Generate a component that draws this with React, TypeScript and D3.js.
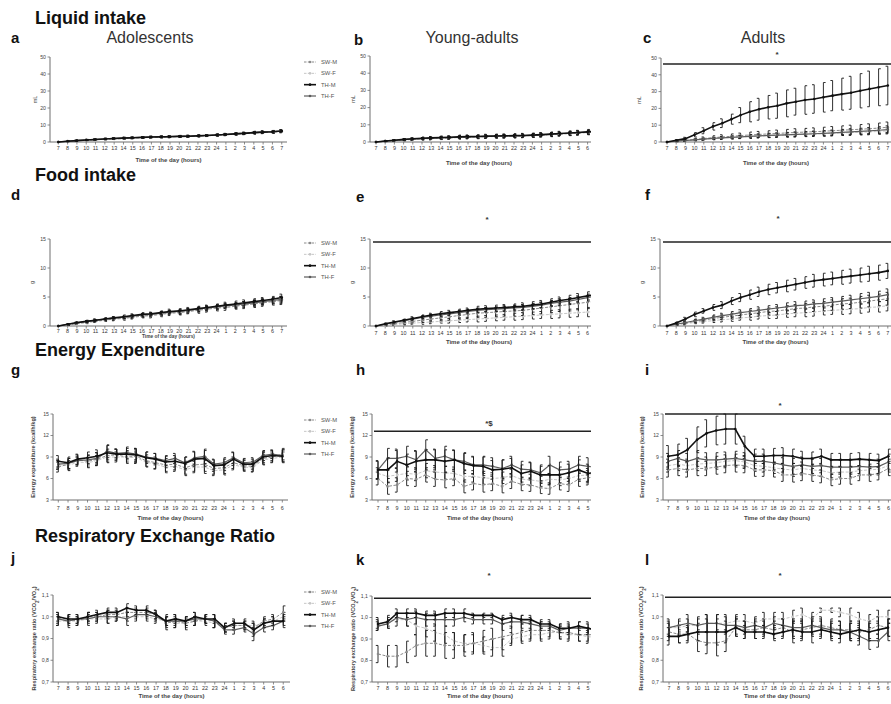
import React from "react";
import * as d3 from "d3";

// ---- time axis ----
const HOURS_25 = ["7","8","9","10","11","12","13","14","15","16","17","18","19","20","21","22","23","24","1","2","3","4","5","6","7"];
const HOURS_24 = HOURS_25.slice(0, 24);
const GROUPS = ["SW-M", "SW-F", "TH-M", "TH-F"];

// ---- tick values ----
const LIQ_TICKS = [0, 10, 20, 30, 40, 50];
const FOOD_TICKS = [0, 5, 10, 15];
const EE_TICKS = [3, 6, 9, 12, 15];
const RER_TICKS = [0.7, 0.8, 0.9, 1.0, 1.1];

// ---- Liquid intake (mL, cumulative) ----
const liqAdo_SWM = [0,0.3,0.7,1.0,1.3,1.6,1.8,2.0,2.2,2.5,2.7,2.9,3.0,3.2,3.3,3.5,3.7,4.0,4.3,4.6,4.9,5.3,5.6,5.8,6.2];
const liqAdo_SWM_sem = [0,0.1,0.2,0.2,0.3,0.3,0.3,0.4,0.4,0.4,0.4,0.5,0.5,0.5,0.5,0.5,0.5,0.6,0.6,0.6,0.6,0.7,0.7,0.7,0.8];
const liqAdo_SWF = [0,0.4,0.8,1.1,1.4,1.7,2.0,2.2,2.4,2.6,2.8,3.0,3.1,3.3,3.4,3.6,3.8,4.1,4.4,4.7,5.0,5.4,5.7,5.9,6.3];
const liqAdo_SWF_sem = [0,0.1,0.1,0.2,0.2,0.3,0.3,0.3,0.3,0.4,0.4,0.4,0.4,0.4,0.5,0.5,0.5,0.5,0.5,0.6,0.6,0.6,0.6,0.7,0.7];
const liqAdo_THM = [0,0.4,0.8,1.2,1.5,1.8,2.1,2.3,2.5,2.7,2.9,3.0,3.1,3.3,3.4,3.6,3.8,4.1,4.4,4.8,5.1,5.5,5.8,6.0,6.5];
const liqAdo_THM_sem = [0,0.1,0.2,0.3,0.3,0.4,0.4,0.4,0.4,0.5,0.5,0.5,0.5,0.5,0.5,0.5,0.5,0.6,0.6,0.6,0.6,0.6,0.7,0.7,0.7];
const liqAdo_THF = [0,0.5,0.9,1.3,1.6,1.9,2.2,2.4,2.6,2.8,3.0,3.1,3.3,3.4,3.5,3.7,3.9,4.2,4.5,4.9,5.2,5.7,5.9,6.1,6.6];
const liqAdo_THF_sem = [0,0.1,0.2,0.2,0.3,0.3,0.3,0.4,0.4,0.4,0.4,0.4,0.5,0.5,0.5,0.5,0.5,0.5,0.6,0.6,0.6,0.6,0.6,0.7,0.7];

const liqYou_SWM = [0,0.4,0.8,1.2,1.5,1.8,2.0,2.2,2.4,2.6,2.8,2.9,3.1,3.2,3.3,3.4,3.6,3.8,4.0,4.3,4.6,4.9,5.2,5.5,5.9];
const liqYou_SWM_sem = [0,0.2,0.3,0.5,0.6,0.7,0.8,0.8,0.9,0.9,1.0,1.0,1.0,1.0,1.1,1.1,1.1,1.1,1.2,1.2,1.2,1.2,1.3,1.3,1.3];
const liqYou_SWF = [0,0.5,0.8,1.2,1.6,1.9,2.1,2.3,2.5,2.7,2.9,3.0,3.2,3.3,3.4,3.5,3.7,3.9,4.1,4.4,4.7,5.0,5.3,5.7,6.0];
const liqYou_SWF_sem = [0,0.2,0.3,0.4,0.5,0.6,0.6,0.7,0.7,0.8,0.8,0.8,0.9,0.9,0.9,0.9,1.0,1.0,1.0,1.0,1.0,1.1,1.1,1.1,1.2];
const liqYou_THM = [0,0.6,1.0,1.5,1.9,2.2,2.4,2.6,2.8,3.0,3.1,3.2,3.4,3.5,3.6,3.7,3.8,4.0,4.3,4.6,4.9,5.2,5.5,5.9,6.3];
const liqYou_THM_sem = [0,0.2,0.3,0.5,0.6,0.7,0.8,0.9,0.9,1.0,1.0,1.0,1.1,1.1,1.1,1.1,1.2,1.2,1.2,1.2,1.3,1.3,1.3,1.4,1.4];
const liqYou_THF = [0,0.5,0.9,1.3,1.7,2.0,2.2,2.4,2.6,2.8,3.0,3.1,3.2,3.4,3.5,3.6,3.7,3.9,4.2,4.5,4.8,5.1,5.4,5.8,6.1];
const liqYou_THF_sem = [0,0.2,0.3,0.4,0.5,0.5,0.6,0.6,0.7,0.7,0.7,0.8,0.8,0.8,0.8,0.9,0.9,0.9,0.9,1.0,1.0,1.0,1.0,1.1,1.1];

const liqAdu_SWM = [0,0.5,1.0,1.5,2.1,2.6,3.0,3.4,3.8,4.2,4.5,4.8,5.1,5.4,5.7,5.9,6.1,6.4,6.7,7.0,7.3,7.6,7.9,8.3,8.8];
const liqAdu_SWM_sem = [0,0.3,0.5,0.7,0.9,1.1,1.3,1.4,1.5,1.7,1.8,1.9,2.0,2.1,2.2,2.2,2.3,2.4,2.5,2.6,2.7,2.8,2.9,3.0,3.1];
const liqAdu_SWF = [0,0.4,0.8,1.2,1.6,2.0,2.4,2.7,3.0,3.3,3.6,3.8,4.0,4.2,4.4,4.6,4.8,5.0,5.2,5.4,5.6,5.8,6.0,6.3,6.6];
const liqAdu_SWF_sem = [0,0.2,0.3,0.4,0.5,0.6,0.7,0.8,0.9,1.0,1.0,1.1,1.2,1.2,1.3,1.3,1.4,1.4,1.5,1.5,1.6,1.6,1.7,1.7,1.8];
const liqAdu_THM = [0,1.0,2.0,4.3,6.7,9.3,11.2,13.6,16.0,18.0,19.5,20.7,21.6,23.0,24.0,25.0,25.6,26.6,27.6,28.5,29.3,30.5,31.6,32.6,33.6];
const liqAdu_THM_sem = [0,0.4,0.8,1.3,1.8,2.2,2.6,3.0,4.5,6.0,6.5,7.0,7.5,8.0,8.0,8.5,8.5,8.8,9.0,9.5,9.8,10.2,10.6,11.0,11.5];
const liqAdu_THF = [0,0.5,0.9,1.3,1.7,2.1,2.4,2.7,3.0,3.3,3.6,3.9,4.1,4.3,4.5,4.7,4.9,5.1,5.4,5.7,6.0,6.3,6.6,7.0,7.4];
const liqAdu_THF_sem = [0,0.2,0.4,0.5,0.6,0.7,0.8,0.9,1.0,1.1,1.2,1.3,1.3,1.4,1.5,1.5,1.6,1.7,1.7,1.8,1.9,1.9,2.0,2.1,2.2];

// ---- Food intake (g, cumulative) ----
const fooAdo_SWM = [0,0.2,0.4,0.6,0.8,1.0,1.2,1.3,1.5,1.7,1.8,2.0,2.2,2.3,2.5,2.7,2.9,3.1,3.2,3.4,3.6,3.8,4.0,4.2,4.4];
const fooAdo_SWM_sem = [0,0.1,0.1,0.2,0.2,0.2,0.3,0.3,0.3,0.3,0.4,0.4,0.4,0.4,0.4,0.5,0.5,0.5,0.5,0.5,0.6,0.6,0.6,0.6,0.7];
const fooAdo_SWF = [0,0.2,0.5,0.7,0.9,1.1,1.2,1.4,1.6,1.8,1.9,2.1,2.3,2.4,2.6,2.8,3.0,3.2,3.4,3.5,3.7,3.9,4.1,4.3,4.5];
const fooAdo_SWF_sem = [0,0.1,0.1,0.1,0.2,0.2,0.2,0.2,0.3,0.3,0.3,0.3,0.3,0.4,0.4,0.4,0.4,0.4,0.4,0.5,0.5,0.5,0.5,0.5,0.6];
const fooAdo_THM = [0,0.3,0.6,0.8,1.0,1.2,1.4,1.6,1.8,2.0,2.1,2.3,2.5,2.6,2.8,3.0,3.2,3.4,3.6,3.8,4.0,4.2,4.4,4.6,4.9];
const fooAdo_THM_sem = [0,0.1,0.1,0.2,0.2,0.2,0.2,0.3,0.3,0.3,0.3,0.3,0.4,0.4,0.4,0.4,0.4,0.4,0.5,0.5,0.5,0.5,0.5,0.5,0.6];
const fooAdo_THF = [0,0.3,0.5,0.8,1.0,1.2,1.4,1.5,1.7,1.9,2.0,2.2,2.4,2.5,2.7,2.9,3.1,3.3,3.5,3.6,3.8,4.0,4.2,4.4,4.6];
const fooAdo_THF_sem = [0,0.1,0.1,0.1,0.2,0.2,0.2,0.2,0.2,0.3,0.3,0.3,0.3,0.3,0.3,0.4,0.4,0.4,0.4,0.4,0.4,0.5,0.5,0.5,0.5];

const fooYou_SWM = [0,0.2,0.4,0.6,0.8,1.0,1.2,1.4,1.6,1.8,2.0,2.2,2.3,2.4,2.5,2.6,2.7,2.9,3.1,3.3,3.5,3.7,3.9,4.1,4.3];
const fooYou_SWM_sem = [0,0.1,0.2,0.3,0.3,0.4,0.5,0.5,0.6,0.6,0.7,0.7,0.8,0.8,0.8,0.9,0.9,0.9,1.0,1.0,1.0,1.1,1.1,1.1,1.2];
const fooYou_SWF = [0,0.1,0.2,0.4,0.5,0.6,0.7,0.8,0.9,1.0,1.1,1.2,1.3,1.4,1.5,1.6,1.7,1.8,1.9,2.0,2.1,2.2,2.3,2.4,2.5];
const fooYou_SWF_sem = [0,0.1,0.1,0.2,0.2,0.3,0.3,0.3,0.4,0.4,0.4,0.5,0.5,0.5,0.5,0.6,0.6,0.6,0.6,0.7,0.7,0.7,0.7,0.8,0.8];
const fooYou_THM = [0,0.4,0.7,1.0,1.3,1.6,1.9,2.1,2.3,2.5,2.7,2.9,3.0,3.1,3.2,3.3,3.4,3.6,3.8,4.1,4.4,4.6,4.9,5.2,5.5];
const fooYou_THM_sem = [0,0.1,0.2,0.2,0.3,0.3,0.3,0.4,0.4,0.4,0.4,0.5,0.5,0.5,0.5,0.5,0.6,0.6,0.6,0.6,0.6,0.7,0.7,0.7,0.7];
const fooYou_THF = [0,0.3,0.6,0.9,1.2,1.5,1.7,1.9,2.1,2.3,2.5,2.7,2.8,2.9,3.0,3.1,3.2,3.4,3.6,3.9,4.1,4.3,4.6,4.9,5.2];
const fooYou_THF_sem = [0,0.1,0.1,0.2,0.2,0.3,0.3,0.3,0.3,0.4,0.4,0.4,0.4,0.4,0.5,0.5,0.5,0.5,0.5,0.5,0.6,0.6,0.6,0.6,0.6];

const fooAdu_SWM = [0,0.3,0.5,0.8,1.0,1.3,1.5,1.7,1.9,2.1,2.3,2.5,2.6,2.8,3.0,3.1,3.3,3.4,3.6,3.8,3.9,4.1,4.3,4.5,4.7];
const fooAdu_SWM_sem = [0,0.1,0.2,0.3,0.3,0.4,0.4,0.5,0.5,0.6,0.6,0.6,0.7,0.7,0.7,0.8,0.8,0.8,0.9,0.9,0.9,1.0,1.0,1.0,1.1];
const fooAdu_SWF = [0,0.2,0.4,0.6,0.8,0.9,1.1,1.2,1.4,1.5,1.7,1.8,1.9,2.1,2.2,2.3,2.4,2.6,2.7,2.8,2.9,3.0,3.2,3.3,3.5];
const fooAdu_SWF_sem = [0,0.1,0.2,0.2,0.3,0.3,0.4,0.4,0.4,0.5,0.5,0.5,0.6,0.6,0.6,0.7,0.7,0.7,0.7,0.8,0.8,0.8,0.8,0.9,0.9];
const fooAdu_THM = [0,0.5,1.2,2.0,2.6,3.2,3.6,4.3,4.9,5.4,5.9,6.3,6.6,6.9,7.2,7.5,7.8,8.0,8.2,8.4,8.6,8.8,9.0,9.2,9.5];
const fooAdu_THM_sem = [0,0.2,0.3,0.4,0.4,0.5,0.6,0.6,0.7,0.8,0.8,0.9,0.9,1.0,1.0,1.0,1.1,1.1,1.1,1.2,1.2,1.2,1.3,1.3,1.3];
const fooAdu_THF = [0,0.3,0.6,0.9,1.2,1.5,1.8,2.0,2.3,2.5,2.7,2.9,3.1,3.3,3.5,3.6,3.8,3.9,4.1,4.3,4.5,4.7,4.9,5.1,5.4];
const fooAdu_THF_sem = [0,0.1,0.2,0.3,0.3,0.4,0.4,0.5,0.5,0.5,0.6,0.6,0.6,0.7,0.7,0.7,0.7,0.8,0.8,0.8,0.8,0.9,0.9,0.9,1.0];

// ---- Energy expenditure (kcal/h/kg) ----
const eeAdo_SWM = [7.6,8.0,8.6,8.4,8.7,9.2,9.3,9.0,9.1,8.5,8.2,7.9,8.0,7.5,7.9,8.0,7.4,7.5,8.2,7.8,7.7,8.8,9.0,9.4];
const eeAdo_SWM_sem = [0.7,0.8,0.7,0.8,0.9,0.9,0.8,0.9,0.9,0.8,0.8,0.9,0.8,0.9,0.9,1.0,0.8,0.8,0.8,0.7,0.7,0.8,0.7,0.8];
const eeAdo_SWF = [7.9,7.8,8.3,8.2,8.5,9.0,9.0,9.0,8.9,8.3,8.0,7.6,7.7,7.2,7.6,7.6,7.1,7.2,7.9,7.6,7.5,8.6,8.8,9.0];
const eeAdo_SWF_sem = [0.6,0.7,0.6,0.7,0.7,0.8,0.7,0.7,0.8,0.7,0.7,0.8,0.7,0.8,0.8,0.9,0.7,0.7,0.7,0.6,0.6,0.7,0.6,0.7];
const eeAdo_THM = [8.4,8.2,8.7,8.9,9.1,9.6,9.4,9.4,9.3,8.9,8.7,8.3,8.4,8.1,8.7,8.8,7.8,7.9,8.7,8.0,8.0,9.0,9.2,9.1];
const eeAdo_THM_sem = [0.8,0.8,0.7,0.8,0.9,1.0,0.7,0.8,0.9,0.8,0.8,0.8,0.8,0.9,1.0,1.1,0.8,0.8,0.9,0.7,0.7,0.8,0.7,0.9];
const eeAdo_THF = [8.0,8.1,8.5,8.6,8.8,9.8,9.5,9.6,9.4,9.0,8.8,8.5,8.8,8.2,8.9,9.1,8.0,8.2,8.9,8.2,8.3,9.2,9.4,9.2];
const eeAdo_THF_sem = [0.7,0.7,0.6,0.7,0.8,0.9,0.6,0.8,0.8,0.7,0.7,0.7,0.7,0.8,0.9,1.0,0.7,0.7,0.8,0.6,0.6,0.7,0.6,0.8];

const eeYou_SWM = [6.0,4.9,5.1,6.0,5.9,6.5,5.9,5.8,6.0,4.9,5.3,5.1,5.3,4.9,5.6,5.2,5.1,4.7,4.6,5.3,5.1,5.9,6.1,6.3];
const eeYou_SWM_sem = [0.9,1.1,1.0,1.0,1.0,1.0,1.0,1.1,1.0,0.9,0.9,1.0,1.0,0.9,1.0,0.9,0.9,0.8,0.8,0.9,0.9,1.0,1.0,1.0];
const eeYou_SWF = [6.7,6.3,6.5,6.7,6.6,7.1,6.9,6.8,6.7,6.3,6.3,6.1,6.0,6.1,6.4,5.9,5.8,5.6,5.9,5.8,6.0,6.4,6.5,6.6];
const eeYou_SWF_sem = [0.8,0.9,0.9,0.9,0.9,1.0,0.9,0.9,0.9,0.8,0.8,0.9,0.8,0.8,0.9,0.8,0.8,0.7,0.8,0.8,0.8,0.8,0.9,0.9];
const eeYou_THM = [7.2,7.2,8.4,7.9,8.4,8.6,8.6,8.4,8.6,8.1,7.8,7.7,7.2,7.3,7.5,6.7,7.0,6.5,6.5,6.5,6.8,7.2,6.7,6.9];
const eeYou_THM_sem = [1.3,1.7,1.5,1.5,1.4,1.4,1.4,1.6,1.4,1.4,1.2,1.3,1.3,1.3,1.3,1.2,1.2,1.2,1.3,1.1,1.2,1.4,1.3,1.3];
const eeYou_THF = [7.2,8.8,8.8,9.1,8.6,10.0,8.8,9.1,8.6,8.4,7.9,7.9,7.7,7.4,7.9,7.3,7.2,6.8,7.9,7.2,7.3,7.9,7.7,7.5];
const eeYou_THF_sem = [1.2,1.4,1.3,1.4,1.3,1.4,1.3,1.4,1.3,1.2,1.2,1.2,1.2,1.2,1.2,1.1,1.1,1.1,1.2,1.1,1.1,1.2,1.2,1.2];

const eeAdu_SWM = [7.2,7.4,7.2,7.4,7.4,7.6,7.8,7.9,7.8,7.2,7.2,7.1,6.5,6.5,6.7,6.5,6.3,5.8,6.0,6.0,6.5,6.5,6.7,7.4];
const eeAdu_SWM_sem = [1.0,1.0,1.0,1.0,1.0,1.0,1.0,1.0,1.0,0.9,0.9,0.9,0.9,1.0,1.0,0.9,0.9,0.8,0.8,0.8,0.8,0.9,0.9,1.0];
const eeAdu_SWF = [7.8,8.0,7.8,8.0,8.1,8.2,8.4,8.5,8.3,7.8,7.7,7.5,7.3,7.2,7.4,7.2,7.1,6.8,6.9,6.9,7.1,7.2,7.3,7.8];
const eeAdu_SWF_sem = [0.9,0.9,0.9,0.9,0.9,0.9,0.9,0.9,0.9,0.8,0.8,0.8,0.8,0.9,0.9,0.8,0.8,0.7,0.7,0.7,0.7,0.8,0.8,0.9];
const eeAdu_THM = [9.1,9.3,10.0,11.4,12.3,12.7,12.9,12.9,10.5,9.1,9.1,9.2,9.2,9.1,8.8,8.8,9.1,8.6,8.6,8.6,8.7,8.6,8.5,9.1];
const eeAdu_THM_sem = [1.5,1.5,1.6,1.8,1.9,2.0,2.1,2.1,1.4,1.0,1.0,1.0,1.1,1.0,1.0,0.9,1.0,0.9,0.9,0.9,0.9,0.9,0.9,1.0];
const eeAdu_THF = [8.4,8.8,8.4,8.8,8.6,8.6,8.7,8.8,8.6,8.4,8.4,8.2,7.9,7.7,7.9,7.7,7.8,7.6,7.6,7.6,7.7,7.6,7.7,8.3];
const eeAdu_THF_sem = [1.1,1.1,1.1,1.1,1.0,1.0,1.0,1.0,1.0,1.0,1.0,1.0,1.0,1.1,1.1,1.0,1.0,1.0,1.0,1.0,1.0,1.0,1.0,1.1];

// ---- Respiratory exchange ratio (VCO2/VO2) ----
const rerAdo_SWM = [0.99,0.99,0.98,1.00,1.00,1.01,1.01,1.02,1.02,1.02,1.01,0.97,0.98,0.97,0.98,0.99,0.98,0.95,0.96,0.96,0.95,0.98,0.99,1.02];
const rerAdo_SWM_sem = [0.02,0.02,0.02,0.02,0.02,0.02,0.02,0.02,0.02,0.02,0.02,0.03,0.03,0.03,0.02,0.02,0.03,0.02,0.02,0.02,0.02,0.02,0.02,0.03];
const rerAdo_SWF = [0.98,0.98,0.98,0.99,0.99,0.99,1.00,1.00,1.00,1.00,0.99,0.98,0.97,0.97,0.98,0.98,0.97,0.95,0.96,0.96,0.96,0.97,0.98,1.00];
const rerAdo_SWF_sem = [0.02,0.02,0.02,0.02,0.02,0.02,0.02,0.02,0.02,0.02,0.02,0.02,0.02,0.02,0.02,0.02,0.02,0.02,0.02,0.02,0.02,0.02,0.02,0.02];
const rerAdo_THM = [1.00,0.99,0.99,1.00,1.01,1.02,1.02,1.04,1.03,1.03,1.01,0.98,0.99,0.98,1.00,0.99,0.99,0.95,0.97,0.97,0.94,0.97,0.98,0.98];
const rerAdo_THM_sem = [0.02,0.02,0.02,0.02,0.02,0.02,0.02,0.02,0.02,0.02,0.02,0.02,0.02,0.02,0.02,0.02,0.02,0.02,0.02,0.02,0.03,0.02,0.02,0.02];
const rerAdo_THF = [0.99,0.98,0.99,0.99,1.00,1.00,1.00,0.99,1.01,1.01,1.00,0.98,0.98,0.98,0.99,0.99,0.98,0.94,0.94,0.95,0.92,0.95,0.96,0.98];
const rerAdo_THF_sem = [0.03,0.03,0.02,0.03,0.02,0.03,0.02,0.03,0.02,0.02,0.02,0.03,0.02,0.02,0.03,0.02,0.03,0.02,0.02,0.02,0.03,0.02,0.02,0.03];

const rerYou_SWM = [0.83,0.82,0.82,0.84,0.87,0.88,0.88,0.87,0.87,0.87,0.88,0.89,0.90,0.91,0.92,0.93,0.94,0.94,0.94,0.93,0.93,0.92,0.92,0.92];
const rerYou_SWM_sem = [0.04,0.05,0.05,0.05,0.05,0.06,0.06,0.06,0.06,0.05,0.05,0.05,0.05,0.06,0.04,0.04,0.04,0.04,0.03,0.03,0.03,0.03,0.03,0.03];
const rerYou_SWF = [0.97,0.98,0.99,0.99,0.96,0.95,0.93,0.92,0.89,0.88,0.88,0.87,0.86,0.86,0.90,0.91,0.92,0.92,0.93,0.93,0.92,0.92,0.91,0.91];
const rerYou_SWF_sem = [0.03,0.03,0.03,0.03,0.04,0.04,0.04,0.04,0.04,0.04,0.04,0.04,0.04,0.04,0.03,0.03,0.03,0.03,0.03,0.03,0.03,0.03,0.03,0.03];
const rerYou_THM = [0.97,0.98,1.02,1.02,1.02,1.01,1.01,1.02,1.02,1.02,1.01,1.01,1.01,0.99,1.00,0.99,0.99,0.97,0.97,0.95,0.95,0.96,0.95,0.94];
const rerYou_THM_sem = [0.02,0.02,0.02,0.02,0.02,0.02,0.02,0.02,0.02,0.02,0.01,0.01,0.01,0.02,0.02,0.02,0.02,0.02,0.02,0.02,0.02,0.02,0.02,0.02];
const rerYou_THF = [0.96,0.97,1.00,0.99,1.00,0.99,0.99,0.99,0.99,1.00,0.99,0.99,0.99,0.97,0.98,0.98,0.97,0.96,0.96,0.94,0.95,0.95,0.95,0.94];
const rerYou_THF_sem = [0.02,0.02,0.02,0.03,0.03,0.03,0.03,0.03,0.03,0.02,0.02,0.02,0.02,0.03,0.03,0.03,0.03,0.02,0.02,0.03,0.03,0.03,0.03,0.03];

const rerAdu_SWM = [0.93,0.92,0.92,0.89,0.88,0.88,0.89,0.95,0.94,0.94,0.95,0.94,0.95,0.93,0.94,0.95,0.96,0.95,0.94,0.94,0.93,0.94,0.96,0.95];
const rerAdu_SWM_sem = [0.04,0.04,0.04,0.05,0.05,0.06,0.05,0.04,0.04,0.04,0.04,0.04,0.04,0.05,0.04,0.04,0.04,0.04,0.04,0.04,0.04,0.04,0.04,0.04];
const rerAdu_SWF = [0.95,0.95,0.96,0.96,0.97,0.97,0.97,0.98,0.98,0.97,0.99,0.99,0.99,1.00,1.01,0.99,1.03,1.03,1.02,1.01,0.99,0.98,1.00,1.00];
const rerAdu_SWF_sem = [0.03,0.03,0.03,0.03,0.04,0.04,0.04,0.03,0.03,0.03,0.03,0.03,0.03,0.03,0.03,0.03,0.01,0.01,0.02,0.03,0.03,0.03,0.03,0.03];
const rerAdu_THM = [0.91,0.91,0.92,0.93,0.93,0.93,0.93,0.95,0.93,0.93,0.93,0.92,0.93,0.94,0.93,0.93,0.94,0.93,0.92,0.93,0.94,0.93,0.94,0.95];
const rerAdu_THM_sem = [0.04,0.03,0.03,0.04,0.06,0.06,0.05,0.04,0.03,0.03,0.03,0.03,0.03,0.04,0.04,0.05,0.04,0.04,0.04,0.04,0.04,0.04,0.04,0.04];
const rerAdu_THF = [0.95,0.96,0.97,0.96,0.97,0.97,0.96,0.96,0.95,0.96,0.95,0.97,0.96,0.95,0.95,0.96,0.95,0.94,0.94,0.93,0.91,0.89,0.89,0.93];
const rerAdu_THF_sem = [0.04,0.03,0.04,0.04,0.04,0.04,0.04,0.04,0.03,0.03,0.03,0.03,0.03,0.04,0.04,0.04,0.04,0.04,0.04,0.04,0.04,0.04,0.03,0.04];

// ---- appearance ----
const FONT = "'Liberation Sans', Arial, Helvetica, sans-serif";
const GROUP_STYLE: Record<string, { stroke: string; width: number; dash?: string }> = {
  "SW-M": { stroke: "#8a8a8a", width: 1, dash: "3,1.6" },
  "SW-F": { stroke: "#c6c6c6", width: 1, dash: "3,1.6" },
  "TH-M": { stroke: "#111111", width: 1.6 },
  "TH-F": { stroke: "#5c5c5c", width: 1.2 },
};
const DRAW_ORDER = ["SW-F", "SW-M", "TH-F", "TH-M"];

type Series = { group: string; mean: number[]; sem: number[] };
type Sig = { value: number; label: string; labelX: number; labelY: number; x1: number };
type PanelSpec = {
  id: string;
  hours: string[];
  series: Series[];
  domain: [number, number];
  ticks: number[];
  fmt: (v: number) => string;
  axisX: number;
  firstX: number;
  step: number;
  axisEnd: number;
  clipRight: number;
  yTop: number;
  yBottom: number;
  yLabel: React.ReactNode;
  yLabelBold: boolean;
  yLabelX: number;
  tickDy: number;
  titleDy: number;
  titleSize?: number;
  sig?: Sig;
};

const fmtInt = (v: number) => d3.format("d")(v);
const fmtComma = (v: number) => d3.format(".1f")(v).replace(".", ",");

const mk = (m: number[][]): Series[] =>
  GROUPS.map((g, i) => ({ group: g, mean: m[i * 2], sem: m[i * 2 + 1] }));

const EE_LABEL = "Energy expenditure (kcal/h/kg)";
const RER_LABEL = (
  <>
    Respiratory exchange ratio (VCO<tspan baselineShift="sub" fontSize="4.5">2</tspan>/VO<tspan baselineShift="sub" fontSize="4.5">2</tspan>)
  </>
);

const PANELS: PanelSpec[] = [
  // Row 1: liquid intake
  {
    id: "a", hours: HOURS_25,
    series: mk([liqAdo_SWM, liqAdo_SWM_sem, liqAdo_SWF, liqAdo_SWF_sem, liqAdo_THM, liqAdo_THM_sem, liqAdo_THF, liqAdo_THF_sem]),
    domain: [0, 50], ticks: LIQ_TICKS, fmt: fmtInt,
    axisX: 50, firstX: 58.3, step: 9.31, axisEnd: 287, clipRight: 290, yTop: 57, yBottom: 142,
    yLabel: "mL", yLabelBold: false, yLabelX: 37, tickDy: 8, titleDy: 20,
  },
  {
    id: "b", hours: HOURS_25,
    series: mk([liqYou_SWM, liqYou_SWM_sem, liqYou_SWF, liqYou_SWF_sem, liqYou_THM, liqYou_THM_sem, liqYou_THF, liqYou_THF_sem]),
    domain: [0, 50], ticks: LIQ_TICKS, fmt: fmtInt,
    axisX: 370, firstX: 376, step: 9.2, axisEnd: 600, clipRight: 591, yTop: 56, yBottom: 142,
    yLabel: "mL", yLabelBold: false, yLabelX: 355, tickDy: 8, titleDy: 23,
  },
  {
    id: "c", hours: HOURS_25,
    series: mk([liqAdu_SWM, liqAdu_SWM_sem, liqAdu_SWF, liqAdu_SWF_sem, liqAdu_THM, liqAdu_THM_sem, liqAdu_THF, liqAdu_THF_sem]),
    domain: [0, 50], ticks: LIQ_TICKS, fmt: fmtInt,
    axisX: 661, firstX: 667, step: 9.2, axisEnd: 891, clipRight: 891, yTop: 58, yBottom: 142,
    yLabel: "mL", yLabelBold: false, yLabelX: 641, tickDy: 8, titleDy: 23,
    sig: { value: 46.5, label: "*", labelX: 777, labelY: 57, x1: 663 },
  },
  // Row 2: food intake
  {
    id: "d", hours: HOURS_25,
    series: mk([fooAdo_SWM, fooAdo_SWM_sem, fooAdo_SWF, fooAdo_SWF_sem, fooAdo_THM, fooAdo_THM_sem, fooAdo_THF, fooAdo_THF_sem]),
    domain: [0, 15], ticks: FOOD_TICKS, fmt: fmtInt,
    axisX: 50, firstX: 58.3, step: 9.31, axisEnd: 287, clipRight: 290, yTop: 239, yBottom: 326,
    yLabel: "g", yLabelBold: false, yLabelX: 34, tickDy: 7, titleDy: 11.5, titleSize: 4.8,
  },
  {
    id: "e", hours: HOURS_25,
    series: mk([fooYou_SWM, fooYou_SWM_sem, fooYou_SWF, fooYou_SWF_sem, fooYou_THM, fooYou_THM_sem, fooYou_THF, fooYou_THF_sem]),
    domain: [0, 15], ticks: FOOD_TICKS, fmt: fmtInt,
    axisX: 370, firstX: 376, step: 9.2, axisEnd: 600, clipRight: 591, yTop: 239, yBottom: 326,
    yLabel: "g", yLabelBold: false, yLabelX: 354, tickDy: 9, titleDy: 18,
    sig: { value: 14.5, label: "*", labelX: 487, labelY: 222, x1: 373 },
  },
  {
    id: "f", hours: HOURS_25,
    series: mk([fooAdu_SWM, fooAdu_SWM_sem, fooAdu_SWF, fooAdu_SWF_sem, fooAdu_THM, fooAdu_THM_sem, fooAdu_THF, fooAdu_THF_sem]),
    domain: [0, 15], ticks: FOOD_TICKS, fmt: fmtInt,
    axisX: 660, firstX: 667, step: 9.2, axisEnd: 891, clipRight: 891, yTop: 239, yBottom: 326,
    yLabel: "g", yLabelBold: false, yLabelX: 644, tickDy: 9, titleDy: 18,
    sig: { value: 14.5, label: "*", labelX: 778, labelY: 221, x1: 663 },
  },
  // Row 3: energy expenditure
  {
    id: "g", hours: HOURS_24,
    series: mk([eeAdo_SWM, eeAdo_SWM_sem, eeAdo_SWF, eeAdo_SWF_sem, eeAdo_THM, eeAdo_THM_sem, eeAdo_THF, eeAdo_THF_sem]),
    domain: [3, 15], ticks: EE_TICKS, fmt: fmtInt,
    axisX: 53, firstX: 58.3, step: 9.74, axisEnd: 288, clipRight: 290, yTop: 414, yBottom: 500,
    yLabel: EE_LABEL, yLabelBold: true, yLabelX: 35, tickDy: 10, titleDy: 20,
  },
  {
    id: "h", hours: HOURS_24,
    series: mk([eeYou_SWM, eeYou_SWM_sem, eeYou_SWF, eeYou_SWF_sem, eeYou_THM, eeYou_THM_sem, eeYou_THF, eeYou_THF_sem]),
    domain: [3, 15], ticks: EE_TICKS, fmt: fmtInt,
    axisX: 372, firstX: 378, step: 9.55, axisEnd: 600, clipRight: 591, yTop: 414, yBottom: 500,
    yLabel: EE_LABEL, yLabelBold: true, yLabelX: 354, tickDy: 10, titleDy: 20,
    sig: { value: 12.6, label: "*$", labelX: 489, labelY: 426, x1: 374 },
  },
  {
    id: "i", hours: HOURS_24,
    series: mk([eeAdu_SWM, eeAdu_SWM_sem, eeAdu_SWF, eeAdu_SWF_sem, eeAdu_THM, eeAdu_THM_sem, eeAdu_THF, eeAdu_THF_sem]),
    domain: [3, 15], ticks: EE_TICKS, fmt: fmtInt,
    axisX: 663, firstX: 668.3, step: 9.57, axisEnd: 891, clipRight: 891, yTop: 414, yBottom: 500,
    yLabel: EE_LABEL, yLabelBold: true, yLabelX: 644, tickDy: 10, titleDy: 20,
    sig: { value: 15, label: "*", labelX: 780, labelY: 408, x1: 665 },
  },
  // Row 4: respiratory exchange ratio
  {
    id: "j", hours: HOURS_24,
    series: mk([rerAdo_SWM, rerAdo_SWM_sem, rerAdo_SWF, rerAdo_SWF_sem, rerAdo_THM, rerAdo_THM_sem, rerAdo_THF, rerAdo_THF_sem]),
    domain: [0.7, 1.1], ticks: RER_TICKS, fmt: fmtComma,
    axisX: 53, firstX: 58.3, step: 9.78, axisEnd: 290, clipRight: 291, yTop: 595, yBottom: 682,
    yLabel: RER_LABEL, yLabelBold: true, yLabelX: 36, tickDy: 7.5, titleDy: 16,
  },
  {
    id: "k", hours: HOURS_24,
    series: mk([rerYou_SWM, rerYou_SWM_sem, rerYou_SWF, rerYou_SWF_sem, rerYou_THM, rerYou_THM_sem, rerYou_THF, rerYou_THF_sem]),
    domain: [0.7, 1.1], ticks: RER_TICKS, fmt: fmtComma,
    axisX: 372, firstX: 378, step: 9.55, axisEnd: 600, clipRight: 591, yTop: 596, yBottom: 682,
    yLabel: RER_LABEL, yLabelBold: true, yLabelX: 355, tickDy: 7.5, titleDy: 16,
    sig: { value: 1.09, label: "*", labelX: 489, labelY: 578, x1: 374 },
  },
  {
    id: "l", hours: HOURS_24,
    series: mk([rerAdu_SWM, rerAdu_SWM_sem, rerAdu_SWF, rerAdu_SWF_sem, rerAdu_THM, rerAdu_THM_sem, rerAdu_THF, rerAdu_THF_sem]),
    domain: [0.7, 1.1], ticks: RER_TICKS, fmt: fmtComma,
    axisX: 663, firstX: 669, step: 9.52, axisEnd: 891, clipRight: 891, yTop: 595, yBottom: 682,
    yLabel: RER_LABEL, yLabelBold: true, yLabelX: 643, tickDy: 7.5, titleDy: 16,
    sig: { value: 1.09, label: "*", labelX: 780, labelY: 578, x1: 665 },
  },
];

const ROW_TITLES = [
  { text: "Liquid intake", y: 24 },
  { text: "Food intake", y: 181 },
  { text: "Energy Expenditure", y: 356 },
  { text: "Respiratory Exchange Ratio", y: 542 },
];
const PANEL_LETTERS = [
  { t: "a", x: 11, y: 43 }, { t: "b", x: 354, y: 45 }, { t: "c", x: 643, y: 43 },
  { t: "d", x: 11, y: 200 }, { t: "e", x: 356, y: 202 }, { t: "f", x: 645, y: 200 },
  { t: "g", x: 11, y: 375 }, { t: "h", x: 356, y: 375 }, { t: "i", x: 645, y: 375 },
  { t: "j", x: 11, y: 563 }, { t: "k", x: 356, y: 565 }, { t: "l", x: 645, y: 565 },
];
const COLUMN_TITLES = [
  { text: "Adolescents", x: 150 },
  { text: "Young-adults", x: 472 },
  { text: "Adults", x: 763 },
];
const LEGEND_TOPS = [62, 243, 420, 592];

function Panel({ p }: { p: PanelSpec }) {
  const n = p.hours.length;
  const x = d3.scaleLinear().domain([0, n - 1]).range([p.firstX, p.firstX + p.step * (n - 1)]);
  const y = d3.scaleLinear().domain(p.domain).range([p.yBottom, p.yTop]);
  const line = d3.line<number>().x((_, i) => x(i)).y((v) => y(v));
  const clipId = `clip-${p.id}`;
  const axisColor = "#6e6e6e";
  const midY = (p.yTop + p.yBottom) / 2;
  const ordered = DRAW_ORDER.map((g) => p.series.find((s) => s.group === g)!);
  const titleX = (p.axisX + Math.min(p.axisEnd, 891)) / 2 + (p.clipRight < 600 && p.axisX > 300 ? -6 : 0);

  return (
    <g>
      <defs>
        <clipPath id={clipId}>
          <rect x={p.axisX - 60} y={p.yTop - 40} width={p.clipRight - (p.axisX - 60)} height={p.yBottom - p.yTop + 70} />
        </clipPath>
      </defs>
      <g clipPath={`url(#${clipId})`}>
        {/* y axis */}
        <line x1={p.axisX} x2={p.axisX} y1={p.yTop} y2={p.yBottom} stroke={axisColor} strokeWidth={1} />
        {p.ticks.map((t) => (
          <g key={t}>
            <line x1={p.axisX - 2.5} x2={p.axisX} y1={y(t)} y2={y(t)} stroke={axisColor} strokeWidth={0.8} />
            <text x={p.axisX - 4} y={y(t) + 1.8} fontSize={5.2} textAnchor="end" fill="#444">
              {p.fmt(t)}
            </text>
          </g>
        ))}
        {/* x axis */}
        <line x1={p.axisX} x2={p.axisEnd} y1={p.yBottom} y2={p.yBottom} stroke={axisColor} strokeWidth={1} />
        {p.hours.map((h, i) => (
          <g key={i}>
            <line x1={x(i)} x2={x(i)} y1={p.yBottom} y2={p.yBottom + 2.5} stroke={axisColor} strokeWidth={0.8} />
            <text x={x(i)} y={p.yBottom + p.tickDy} fontSize={5.4} textAnchor="middle" fill="#333">
              {h}
            </text>
          </g>
        ))}
        {/* significance bar */}
        {p.sig && (
          <g>
            <line x1={p.sig.x1} x2={p.clipRight} y1={y(p.sig.value)} y2={y(p.sig.value)} stroke="#222" strokeWidth={1.5} />
            <text x={p.sig.labelX} y={p.sig.labelY} fontSize={8} fontWeight="bold" textAnchor="middle" fill="#333">
              {p.sig.label}
            </text>
          </g>
        )}
        {/* series */}
        {ordered.map((s) => {
          const st = GROUP_STYLE[s.group];
          return (
            <g key={s.group}>
              {s.mean.map((m, i) => {
                const e = s.sem[i];
                if (!e) return null;
                const cx = x(i);
                const side = i % 2 === 0 ? -2.2 : 2.2;
                return (
                  <g key={i} stroke="#1a1a1a" strokeWidth={0.9} fill="none">
                    <line x1={cx} x2={cx} y1={y(m - e)} y2={y(m + e)} />
                    <line x1={cx} x2={cx + side} y1={y(m + e)} y2={y(m + e)} />
                    <line x1={cx} x2={cx + side} y1={y(m - e)} y2={y(m - e)} />
                  </g>
                );
              })}
              <path d={line(s.mean) || ""} fill="none" stroke={st.stroke} strokeWidth={st.width} strokeDasharray={st.dash} />
              {s.mean.map((m, i) => (
                <circle key={i} cx={x(i)} cy={y(m)} r={1.3} fill={st.stroke} />
              ))}
            </g>
          );
        })}
        {/* x axis title */}
        <text x={titleX} y={p.yBottom + p.titleDy} fontSize={p.titleSize ?? 6} fontWeight="bold" textAnchor="middle" fill="#444">
          Time of the day (hours)
        </text>
      </g>
      {/* y axis title */}
      <text
        transform={`translate(${p.yLabelX},${midY}) rotate(-90)`}
        fontSize={p.yLabelBold ? 5.6 : 5.4}
        fontWeight={p.yLabelBold ? "bold" : "normal"}
        textAnchor="middle"
        fill="#444"
      >
        {p.yLabel}
      </text>
    </g>
  );
}

function Legend({ top }: { top: number }) {
  const rows = d3.range(GROUPS.length);
  const yPos = d3.scaleLinear().domain([0, 3]).range([top, top + 34]);
  return (
    <g>
      {rows.map((i) => {
        const g = GROUPS[i];
        const st = GROUP_STYLE[g];
        const yy = yPos(i);
        return (
          <g key={g}>
            <line x1={304} x2={316} y1={yy} y2={yy} stroke={st.stroke} strokeWidth={st.width} strokeDasharray={st.dash ? "2.5,1.3" : undefined} />
            <circle cx={310} cy={yy} r={1.3} fill={st.stroke} />
            <text x={321} y={yy + 2} fontSize={5.8} fill="#555">
              {g}
            </text>
          </g>
        );
      })}
    </g>
  );
}

export default function App() {
  return (
    <div style={{ position: "absolute", left: 0, top: 0 }}>
      <svg width={891} height={704} viewBox="0 0 891 704" style={{ display: "block", background: "#fff", fontFamily: FONT }}>
        <rect x={0} y={0} width={891} height={704} fill="#fff" />
        {PANELS.map((p) => (
          <Panel key={p.id} p={p} />
        ))}
        {LEGEND_TOPS.map((t) => (
          <Legend key={t} top={t} />
        ))}
        {ROW_TITLES.map((r) => (
          <text key={r.text} x={35} y={r.y} fontSize={18} fontWeight="bold" fill="#111">
            {r.text}
          </text>
        ))}
        {COLUMN_TITLES.map((c) => (
          <text key={c.text} x={c.x} y={43} fontSize={16} textAnchor="middle" fill="#333">
            {c.text}
          </text>
        ))}
        {PANEL_LETTERS.map((l) => (
          <text key={l.t} x={l.x} y={l.y} fontSize={15} fontWeight="bold" fill="#111">
            {l.t}
          </text>
        ))}
      </svg>
    </div>
  );
}
